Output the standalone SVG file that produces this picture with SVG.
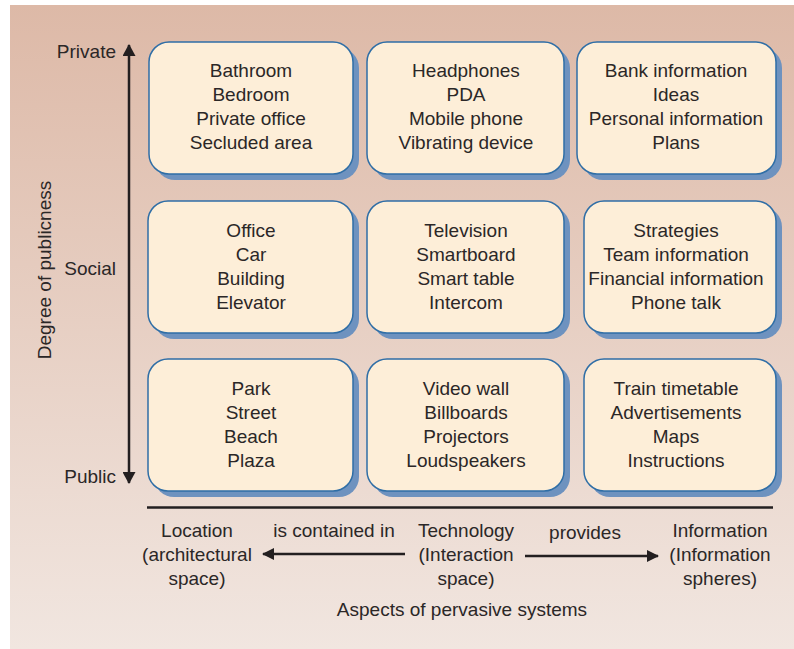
<svg xmlns="http://www.w3.org/2000/svg" width="794" height="649" viewBox="0 0 794 649">
<defs>
<linearGradient id="bg" x1="0" y1="0" x2="0" y2="1">
<stop offset="0" stop-color="#ddb9a7"/>
<stop offset="1" stop-color="#f1e6e0"/>
</linearGradient>
<marker id="ah" viewBox="0 0 12 12" refX="11" refY="6" markerWidth="12" markerHeight="12" markerUnits="userSpaceOnUse" orient="auto">
<path d="M0,0 L12,6 L0,12 Z" fill="#231f20"/>
</marker>
<marker id="ahv" viewBox="0 0 12 13" refX="11" refY="6.5" markerWidth="12" markerHeight="13" markerUnits="userSpaceOnUse" orient="auto-start-reverse">
<path d="M0,0 L12,6.5 L0,13 Z" fill="#231f20"/>
</marker>
</defs>
<style>
text{font-family:"Liberation Sans",Arial,sans-serif;font-size:19px;fill:#2b2727}
.c{text-anchor:middle}
.e{text-anchor:end}
.sh{fill:#6e92bf}
.bx{fill:#fdeed8;stroke:#2f6ea6;stroke-width:1.5}
.ln{stroke:#231f20;fill:none}
</style>
<rect x="10" y="5" width="784" height="644" fill="url(#bg)"/>

<g id="axes">
<line class="ln" x1="129" y1="45" x2="129" y2="483" stroke-width="2.5" marker-start="url(#ahv)" marker-end="url(#ahv)"/>
<line class="ln" x1="147" y1="507.5" x2="773" y2="507.5" stroke-width="2.5"/>
</g>

<g id="connectors">
<line class="ln" x1="405" y1="554" x2="263" y2="554" stroke-width="2.5" marker-end="url(#ah)"/>
<line class="ln" x1="525" y1="556" x2="658" y2="556" stroke-width="2.5" marker-end="url(#ah)"/>
</g>

<g id="labels">
<text class="e" x="116" y="58">Private</text>
<text class="e" x="116" y="275">Social</text>
<text class="e" x="116" y="483">Public</text>
<text class="c" transform="translate(51,270) rotate(-90)">Degree of publicness</text>
<text class="c" x="197" y="537">Location</text>
<text class="c" x="197" y="561">(architectural</text>
<text class="c" x="197" y="585">space)</text>
<text class="c" x="334" y="537">is contained in</text>
<text class="c" x="466" y="537">Technology</text>
<text class="c" x="466" y="561">(Interaction</text>
<text class="c" x="466" y="585">space)</text>
<text class="c" x="585" y="539">provides</text>
<text class="c" x="720" y="537">Information</text>
<text class="c" x="720" y="561">(Information</text>
<text class="c" x="720" y="585">spheres)</text>
<text class="c" x="462" y="616">Aspects of pervasive systems</text>
</g>

<g id="box-location-private">
<rect class="sh" x="155" y="48" width="204" height="132" rx="20"/>
<rect class="bx" x="149" y="42" width="204" height="132" rx="20"/>
<text class="c" x="251" y="77">Bathroom</text>
<text class="c" x="251" y="101">Bedroom</text>
<text class="c" x="251" y="125">Private office</text>
<text class="c" x="251" y="149">Secluded area</text>
</g>
<g id="box-technology-private">
<rect class="sh" x="373" y="48" width="197" height="132" rx="20"/>
<rect class="bx" x="367" y="42" width="197" height="132" rx="20"/>
<text class="c" x="466" y="77">Headphones</text>
<text class="c" x="466" y="101">PDA</text>
<text class="c" x="466" y="125">Mobile phone</text>
<text class="c" x="466" y="149">Vibrating device</text>
</g>
<g id="box-information-private">
<rect class="sh" x="583" y="48" width="199" height="132" rx="20"/>
<rect class="bx" x="577" y="42" width="199" height="132" rx="20"/>
<text class="c" x="676" y="77">Bank information</text>
<text class="c" x="676" y="101">Ideas</text>
<text class="c" x="676" y="125">Personal information</text>
<text class="c" x="676" y="149">Plans</text>
</g>

<g id="box-location-social">
<rect class="sh" x="154" y="207" width="205" height="132" rx="20"/>
<rect class="bx" x="148" y="201" width="205" height="132" rx="20"/>
<text class="c" x="251" y="237">Office</text>
<text class="c" x="251" y="261">Car</text>
<text class="c" x="251" y="285">Building</text>
<text class="c" x="251" y="309">Elevator</text>
</g>
<g id="box-technology-social">
<rect class="sh" x="373" y="207" width="197" height="132" rx="20"/>
<rect class="bx" x="367" y="201" width="197" height="132" rx="20"/>
<text class="c" x="466" y="237">Television</text>
<text class="c" x="466" y="261">Smartboard</text>
<text class="c" x="466" y="285">Smart table</text>
<text class="c" x="466" y="309">Intercom</text>
</g>
<g id="box-information-social">
<rect class="sh" x="590" y="207" width="192" height="132" rx="20"/>
<rect class="bx" x="584" y="201" width="192" height="132" rx="20"/>
<text class="c" x="676" y="237">Strategies</text>
<text class="c" x="676" y="261">Team information</text>
<text class="c" x="676" y="285">Financial information</text>
<text class="c" x="676" y="309">Phone talk</text>
</g>

<g id="box-location-public">
<rect class="sh" x="154" y="365" width="205" height="132" rx="20"/>
<rect class="bx" x="148" y="359" width="205" height="132" rx="20"/>
<text class="c" x="251" y="395">Park</text>
<text class="c" x="251" y="419">Street</text>
<text class="c" x="251" y="443">Beach</text>
<text class="c" x="251" y="467">Plaza</text>
</g>
<g id="box-technology-public">
<rect class="sh" x="373" y="365" width="197" height="132" rx="20"/>
<rect class="bx" x="367" y="359" width="197" height="132" rx="20"/>
<text class="c" x="466" y="395">Video wall</text>
<text class="c" x="466" y="419">Billboards</text>
<text class="c" x="466" y="443">Projectors</text>
<text class="c" x="466" y="467">Loudspeakers</text>
</g>
<g id="box-information-public">
<rect class="sh" x="590" y="365" width="192" height="132" rx="20"/>
<rect class="bx" x="584" y="359" width="192" height="132" rx="20"/>
<text class="c" x="676" y="395">Train timetable</text>
<text class="c" x="676" y="419">Advertisements</text>
<text class="c" x="676" y="443">Maps</text>
<text class="c" x="676" y="467">Instructions</text>
</g>
</svg>
